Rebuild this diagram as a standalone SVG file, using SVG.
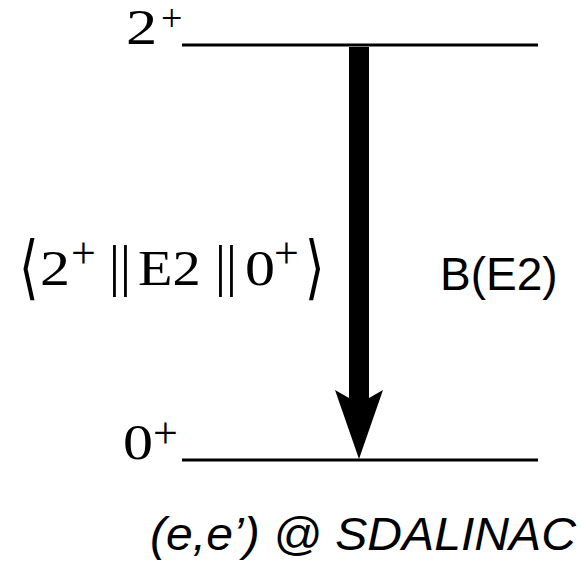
<svg xmlns="http://www.w3.org/2000/svg" width="581" height="565" viewBox="0 0 581 565">
<style>
.lvl{stroke:#000;stroke-width:3;fill:none}
.m{font-family:"Liberation Serif","DejaVu Serif",serif;fill:#000}
.d{font-size:50px}
.p{font-size:44px}
.bar{font-size:57px;text-anchor:middle}
.s{font-family:"Liberation Sans",Arial,sans-serif;fill:#000}
</style>
<rect width="581" height="565" fill="#fff"/>
<g id="level-2plus">
<line class="lvl" x1="182" y1="45" x2="538" y2="45"/>
<text class="m d" transform="translate(126,44) scale(1.25,1)">2</text>
<text class="m" x="161" y="31" font-size="38">+</text>
</g>
<g id="level-0plus">
<line class="lvl" x1="182" y1="460" x2="538" y2="460"/>
<text class="m d" transform="translate(123,459) scale(1.2,1)">0</text>
<text class="m p" x="153" y="448">+</text>
</g>
<g id="connectors">
<path d="M349,47 H369 V398 L383,390 L359,459 L335,390 L349,398 Z" fill="#000"/>
</g>
<g id="matrix-element">
<text class="m" font-size="50" transform="translate(19,291) scale(1,1.4)">⟨</text>
<text class="m d" transform="translate(40,285) scale(1.2,1)">2</text>
<text class="m p" x="71" y="268">+</text>
<text class="m bar" x="114.5" y="285">|</text>
<text class="m bar" x="125.5" y="285">|</text>
<text class="m d" transform="translate(138,285) scale(1.13,1)">E2</text>
<text class="m bar" x="220.5" y="285">|</text>
<text class="m bar" x="231.5" y="285">|</text>
<text class="m d" transform="translate(245,285) scale(1.2,1)">0</text>
<text class="m p" x="274" y="268">+</text>
<text class="m" font-size="50" transform="translate(305,291) scale(1,1.4)">⟩</text>
</g>
<g id="label-be2">
<text class="s" x="440" y="290" font-size="46">B(E2)</text>
</g>
<g id="label-source">
<text class="s" x="150" y="550" font-size="46" font-style="italic" textLength="426" lengthAdjust="spacingAndGlyphs">(e,e’) @ SDALINAC</text>
</g>
</svg>
